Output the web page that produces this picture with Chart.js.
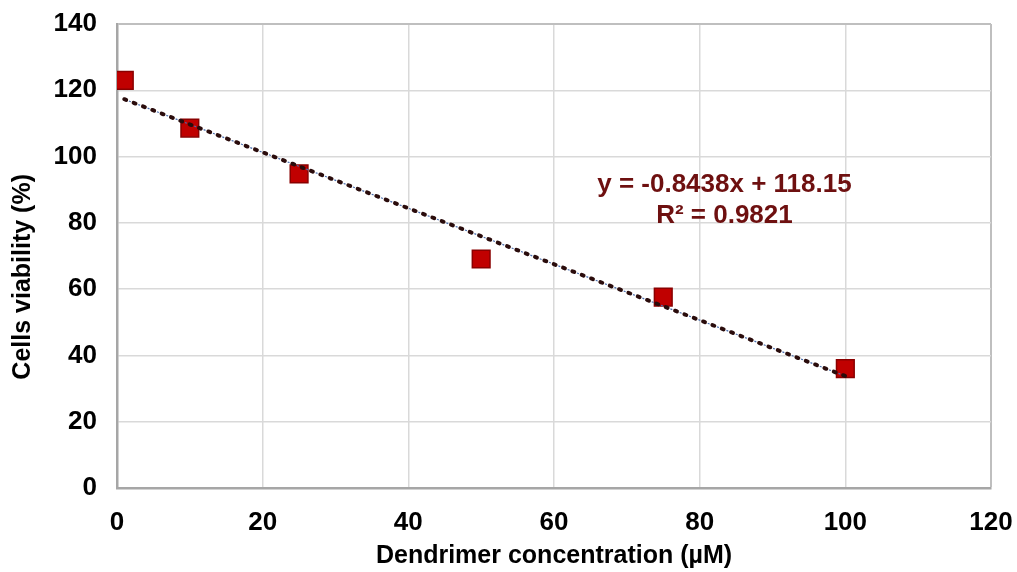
<!DOCTYPE html>
<html>
<head>
<meta charset="utf-8">
<script src="https://cdn.jsdelivr.net/npm/chart.js@4.4.1/dist/chart.umd.min.js"></script>
<style>
  html, body { margin: 0; padding: 0; background: #ffffff; }
  #wrap { width: 1017px; height: 572px; }
</style>
</head>
<body>
<div id="wrap"><canvas id="c" width="1017" height="572"></canvas></div>
<script>
// ---- Data ----
const concentrations = [1, 10, 25, 50, 75, 100];          // µM
const viability      = [123, 108.6, 94.8, 69.1, 57.6, 36]; // %
const trendSlope     = -0.8438;
const trendIntercept = 118.15;
const trendRange     = [1, 100];
const equationLines  = ["y = -0.8438x + 118.15", "R² = 0.9821"];
const xTickMax = 120, xTickStep = 20;
const yTickMax = 140, yTickStep = 20;
const xTitle = "Dendrimer concentration (µM)";
const yTitle = "Cells viability (%)";

const points = concentrations.map((x, i) => ({ x: x, y: viability[i] }));
const trend = trendRange.map(x => ({ x: x, y: trendSlope * x + trendIntercept }));

const FONT = "'Liberation Sans', Arial, sans-serif";

const equationPlugin = {
  id: 'equation',
  afterDatasetsDraw(chart) {
    const { ctx, scales } = chart;
    const cx = scales.x.getPixelForValue(83.4);
    const y1 = scales.y.getPixelForValue(91.4);
    const y2 = scales.y.getPixelForValue(82.2);
    ctx.save();
    ctx.fillStyle = '#6e1010';
    ctx.font = "bold 26px " + FONT;
    ctx.textAlign = 'center';
    ctx.textBaseline = 'middle';
    ctx.fillText(equationLines[0], cx, y1);
    ctx.fillText(equationLines[1], cx, y2);
    ctx.restore();
  }
};

new Chart(document.getElementById('c'), {
  type: 'scatter',
  data: {
    datasets: [
      {
        label: 'trend',
        type: 'line',
        data: trend,
        borderColor: '#2a0c0c',
        borderWidth: 4,
        borderDash: [2, 8],
        borderCapStyle: 'round',
        pointRadius: 0,
        fill: false,
        order: 0
      },
      {
        label: 'trend2',
        type: 'line',
        data: trend,
        borderColor: '#4a6fb0',
        borderWidth: 1.2,
        borderDash: [2, 8],
        borderDashOffset: 5,
        pointRadius: 0,
        fill: false,
        order: 0
      },
      {
        label: 'viability',
        data: points,
        pointStyle: 'rect',
        pointRadius: 12.5,
        pointHoverRadius: 12.5,
        backgroundColor: '#c00000',
        borderColor: '#8a0000',
        borderWidth: 1.5,
        order: 1
      }
    ]
  },
  options: {
    responsive: false,
    animation: false,
    devicePixelRatio: 1,
    layout: { padding: { top: 24, right: 26, left: 0, bottom: 0 } },
    plugins: {
      legend: { display: false },
      tooltip: { enabled: false }
    },
    scales: {
      x: {
        type: 'linear',
        min: 0, max: xTickMax,
        ticks: {
          stepSize: xTickStep,
          color: '#000000',
          font: { family: FONT, size: 26, weight: 'bold' },
          padding: 19,
          maxRotation: 0
        },
        grid: {
          drawTicks: false,
          color: (c) => c.tick && c.tick.value === xTickMax ? '#bfbfbf' : '#d9d9d9',
          lineWidth: (c) => c.tick && c.tick.value === xTickMax ? 2 : 1.5
        },
        border: { color: '#a6a6a6', width: 2.5 },
        title: {
          display: true,
          text: xTitle,
          color: '#000000',
          font: { family: FONT, size: 25, weight: 'bold' },
          padding: { top: 0, bottom: 1 }
        },
        afterFit(scale) {
          scale.height = 84;
          scale.paddingLeft = 0;
          scale.paddingRight = 0;
        }
      },
      y: {
        type: 'linear',
        min: 0, max: yTickMax,
        ticks: {
          stepSize: yTickStep,
          color: '#000000',
          font: { family: FONT, size: 26, weight: 'bold' },
          padding: 20
        },
        grid: {
          drawTicks: false,
          color: (c) => c.tick && c.tick.value === yTickMax ? '#bfbfbf' : '#d9d9d9',
          lineWidth: (c) => c.tick && c.tick.value === yTickMax ? 2 : 1.5
        },
        border: { color: '#a6a6a6', width: 2.5 },
        title: {
          display: true,
          text: yTitle + '      ',
          color: '#000000',
          font: { family: FONT, size: 25, weight: 'bold' },
          padding: { top: 8, bottom: 0 }
        },
        afterFit(scale) {
          scale.width = 117;
          scale.paddingTop = 0;
          scale.paddingBottom = 0;
        }
      }
    }
  },
  plugins: [equationPlugin]
});
</script>
</body>
</html>
